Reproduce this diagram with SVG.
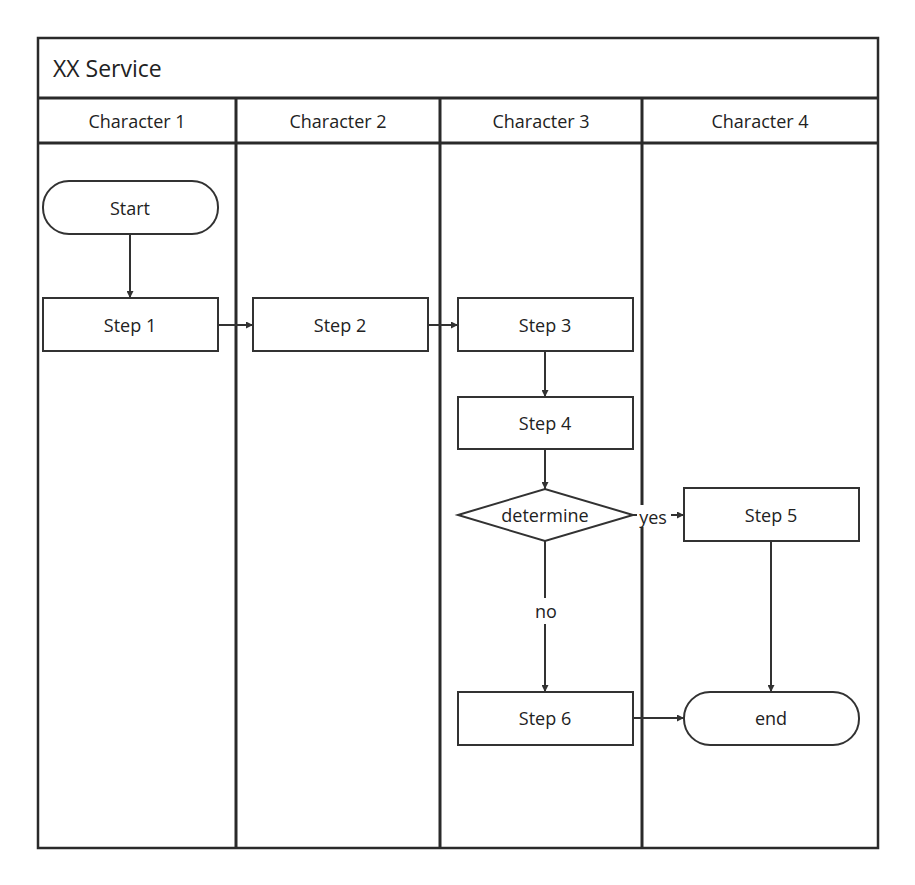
<svg xmlns="http://www.w3.org/2000/svg" width="915" height="885" viewBox="0 0 915 885">
<style>
.s{fill:#fff;stroke:#323232;stroke-width:2}
.t{font-family:"Open Sans","Noto Sans",sans-serif;font-size:18px;fill:#222;text-anchor:middle;dominant-baseline:central}
.c{stroke:#323232;stroke-width:2;fill:none;marker-end:url(#a)}
.lane{stroke:#2a2a2a;stroke-width:3}
</style>
<defs><marker id="a" viewBox="0 0 10 10" refX="10" refY="5" markerWidth="7" markerHeight="7" markerUnits="userSpaceOnUse" orient="auto"><path d="M0,0L10,5L0,10z" fill="#323232"/></marker></defs>
<rect width="915" height="885" fill="#fff"/>
<g id="pool">
<rect x="38" y="38" width="840" height="810" fill="#fff" stroke="#2a2a2a" stroke-width="2.5"/>
<line x1="38" y1="98" x2="878" y2="98" class="lane"/>
<line x1="38" y1="143" x2="878" y2="143" class="lane"/>
<line x1="236" y1="98" x2="236" y2="848" class="lane"/>
<line x1="440" y1="98" x2="440" y2="848" class="lane"/>
<line x1="642" y1="98" x2="642" y2="848" class="lane"/>
<text x="53" y="68" class="t" style="text-anchor:start;font-size:23px">XX Service</text>
<text x="137" y="121" class="t">Character 1</text>
<text x="338" y="121" class="t">Character 2</text>
<text x="541" y="121" class="t">Character 3</text>
<text x="760" y="121" class="t">Character 4</text>
</g>
<g id="connectors">
<line x1="130" y1="234" x2="130" y2="298" class="c"/>
<line x1="218" y1="325" x2="253" y2="325" class="c"/>
<line x1="428" y1="325" x2="458" y2="325" class="c"/>
<line x1="545" y1="351" x2="545" y2="397" class="c"/>
<line x1="545" y1="449" x2="545" y2="489" class="c"/>
<line x1="633" y1="515" x2="684" y2="515" class="c"/>
<rect x="637" y="505" width="34" height="22" fill="#fff"/>
<text x="653" y="517" class="t">yes</text>
<line x1="545" y1="541" x2="545" y2="692" class="c"/>
<rect x="532" y="598" width="26" height="26" fill="#fff"/>
<text x="546" y="611" class="t">no</text>
<line x1="771" y1="541" x2="771" y2="692" class="c"/>
<line x1="633" y1="718" x2="684" y2="718" class="c"/>
</g>
<g id="start"><rect x="43" y="181" width="175" height="53" rx="26" class="s"/><text x="130" y="208" class="t">Start</text></g>
<g id="step1"><rect x="43" y="298" width="175" height="53" class="s"/><text x="130" y="325" class="t">Step 1</text></g>
<g id="step2"><rect x="253" y="298" width="175" height="53" class="s"/><text x="340" y="325" class="t">Step 2</text></g>
<g id="step3"><rect x="458" y="298" width="175" height="53" class="s"/><text x="545" y="325" class="t">Step 3</text></g>
<g id="step4"><rect x="458" y="397" width="175" height="52" class="s"/><text x="545" y="423" class="t">Step 4</text></g>
<g id="determine"><polygon points="458,515 545,489 633,515 545,541" class="s"/><text x="545" y="515" class="t">determine</text></g>
<g id="step5"><rect x="684" y="488" width="175" height="53" class="s"/><text x="771" y="515" class="t">Step 5</text></g>
<g id="step6"><rect x="458" y="692" width="175" height="53" class="s"/><text x="545" y="718" class="t">Step 6</text></g>
<g id="end"><rect x="684" y="692" width="175" height="53" rx="26" class="s"/><text x="771" y="718" class="t">end</text></g>
</svg>
